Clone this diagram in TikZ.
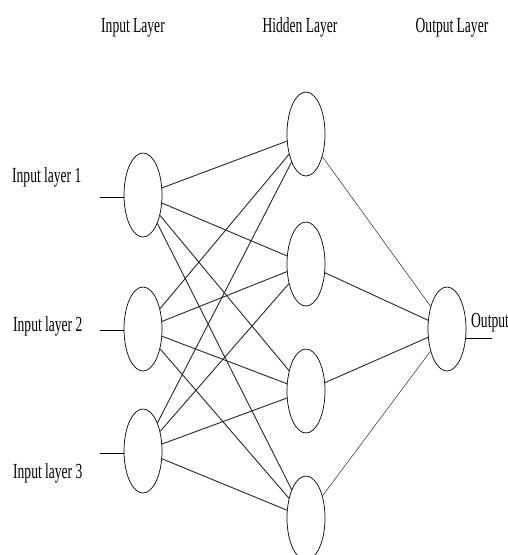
\documentclass[tikz,border=0pt]{standalone}
\usepackage{fontspec}
\setmainfont{Liberation Serif}
\newfontfamily\condfont[FakeStretch=0.63]{Liberation Serif}
\usetikzlibrary{shapes.geometric}
\begin{document}
\begin{tikzpicture}[x=1pt,y=-1pt,
  neuron/.style={draw, line width=0.7pt, ellipse, minimum width=38pt, minimum height=84pt, inner sep=0pt},
  lbl/.style={font=\condfont\fontsize{21.5}{21.5}\selectfont, inner sep=0pt},
  conn/.style={line width=0.9pt, draw=black!85},
  connthin/.style={line width=0.55pt, draw=black!80},
  ioline/.style={line width=1pt}]
\useasboundingbox (0,0) rectangle (508,555);
\clip (0,0) rectangle (508,555);
% headers
\node[lbl, anchor=base] (hIn) at (133,32) {Input Layer};
\node[lbl, anchor=base] (hHid) at (300,32) {Hidden Layer};
\node[lbl, anchor=base] (hOut) at (452,32) {Output Layer};
% input nodes
\node[neuron] (i1) at (143,195) {};
\node[neuron] (i2) at (143,329) {};
\node[neuron] (i3) at (143,451) {};
% hidden nodes
\node[neuron] (h1) at (306,134) {};
\node[neuron] (h2) at (306,264) {};
\node[neuron] (h3) at (306,391) {};
\node[neuron] (h4) at (306,518) {};
% output node
\node[neuron] (o) at (447,329) {};
% labels
\node[lbl, anchor=base west] (l1) at (12,182) {Input layer 1};
\node[lbl, anchor=base west] (l2) at (13,331) {Input layer 2};
\node[lbl, anchor=base west] (l3) at (13,478) {Input layer 3};
\node[lbl, anchor=base west] (lo) at (471,327) {Output};
% input stubs
\coordinate (s1) at (100,197);
\coordinate (s2) at (100,330);
\coordinate (s3) at (100,453);
\coordinate (so) at (492,338);
\draw[ioline] (s1) -- (i1.west |- s1);
\draw[ioline] (s2) -- (i2.west |- s2);
\draw[ioline] (s3) -- (i3.west |- s3);
\draw[ioline] (o.east |- so) -- (so);
% connections
\foreach \i in {i1,i2,i3}{
  \foreach \h in {h1,h2,h3,h4}{
    \draw[conn] (\i) -- (\h);
  }
}
\draw[connthin] (h1) -- (o);
\draw[conn] (h2) -- (o);
\draw[conn] (h3) -- (o);
\draw[connthin] (h4) -- (o);
\end{tikzpicture}
\end{document}
